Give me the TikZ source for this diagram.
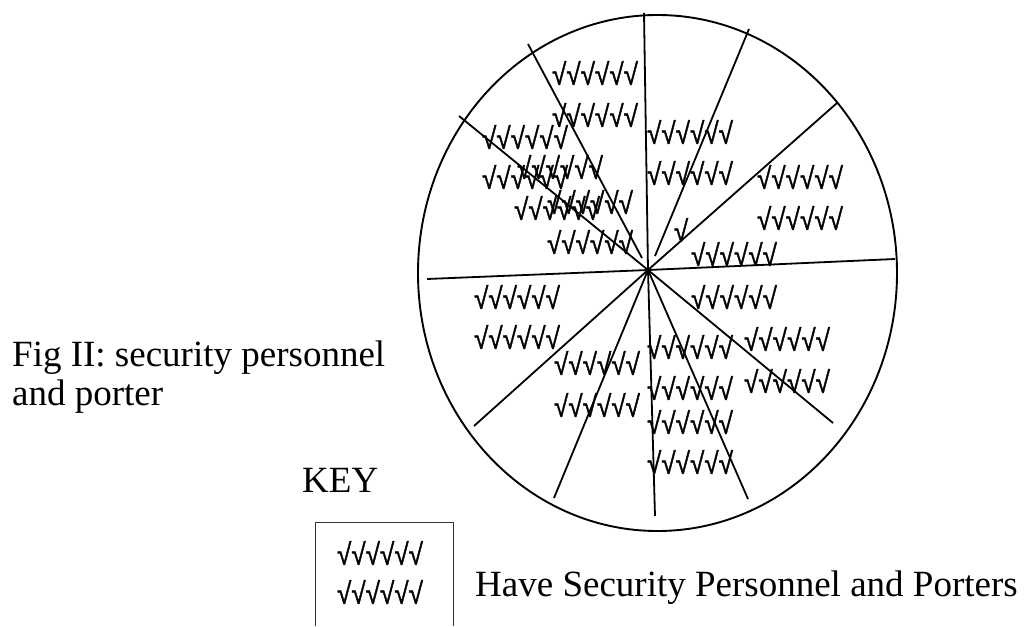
\documentclass[tikz,border=0pt]{standalone}
\usepackage{fontspec}
\setmainfont{Liberation Serif}
\newfontfamily\chkfont[FakeStretch=0.87, FakeBold=1.2]{Liberation Sans}
\usepackage{tikz}
\usetikzlibrary{calc}

\tikzset{
  chk/.style={font=\chkfont\fontsize{30}{32}\selectfont, inner sep=0pt},
  spoke/.style={line width=1.8pt},
  bigtext/.style={font=\fontsize{37}{39}\selectfont, inner sep=0pt}
}

\begin{document}
\begin{tikzpicture}[x=1pt,y=-1pt]
    \useasboundingbox (0,0) rectangle (1024,626);
    % pie outline and centre
    \draw[line width=1.9pt] (657.5,273) ellipse (239.5 and 258);
    \coordinate (hub) at (648,270);
    % spokes
    \draw[spoke] (hub) -- (427,279);
    \draw[spoke] (hub) -- (895,259);
    \draw[spoke] (hub) -- (459,116);
    \draw[spoke] (642,258) -- (528,44);
    \draw[spoke] (hub) -- (644,13);
    \draw[spoke] (655,256) -- (749,29);
    \draw[spoke] (hub) -- (837,103);
    \draw[spoke] (hub) -- (474,426);
    \draw[spoke] (hub) -- (554,498);
    \draw[spoke] (hub) -- (655,516);
    \draw[spoke] (hub) -- (748,499);
    \draw[spoke] (hub) -- (833,423);
    % ticks in the sectors
    \node[chk] (ra) at (595,73) {√√√√√√};
    \node[chk] (rb) at (595,115) {√√√√√√};
    \node[chk] (rc) at (525,137) {√√√√√√};
    \node[chk] (rd) at (690,132) {√√√√√√};
    \node[chk] (re) at (560,167) {√√√√√√};
    \node[chk] (rf) at (525,177) {√√√√√√};
    \node[chk] (rg) at (690,173) {√√√√√√};
    \node[chk] (rh) at (800,177) {√√√√√√};
    \node[chk] (ri) at (590,202) {√√√√√√};
    \node[chk] (rj) at (557,208) {√√√√√√};
    \node[chk] (rk) at (800,218) {√√√√√√};
    \node[chk] (rl) at (681,230) {√};
    \node[chk] (rm) at (590,242) {√√√√√√};
    \node[chk] (rn) at (734,254) {√√√√√√};
    \node[chk] (ro) at (734,297) {√√√√√√};
    \node[chk] (rp) at (517,297) {√√√√√√};
    \node[chk] (rq) at (517,337) {√√√√√√};
    \node[chk] (rr) at (690,347) {√√√√√√};
    \node[chk] (rs) at (787,339) {√√√√√√};
    \node[chk] (rt) at (597,363) {√√√√√√};
    \node[chk] (ru) at (690,388) {√√√√√√};
    \node[chk] (rv) at (787,381) {√√√√√√};
    \node[chk] (rw) at (597,405) {√√√√√√};
    \node[chk] (rx) at (690,422) {√√√√√√};
    \node[chk] (ry) at (690,462) {√√√√√√};
    % caption
    \node[bigtext, anchor=west, align=left] (fig) at (12,377) {Fig II: security personnel\\and porter};
    % key
    \node[bigtext, anchor=base west] (key) at (302,492) {KEY};
    \draw[line width=1pt, black!80] (315,626) -- (315,522) -- (453,522) -- (453,626);
    \node[chk] (k1) at (380,553) {√√√√√√};
    \node[chk] (k2) at (380,592) {√√√√√√};
    \node[bigtext, anchor=base west] (have) at (475,596) {Have Security Personnel and Porters};
\end{tikzpicture}
\end{document}
